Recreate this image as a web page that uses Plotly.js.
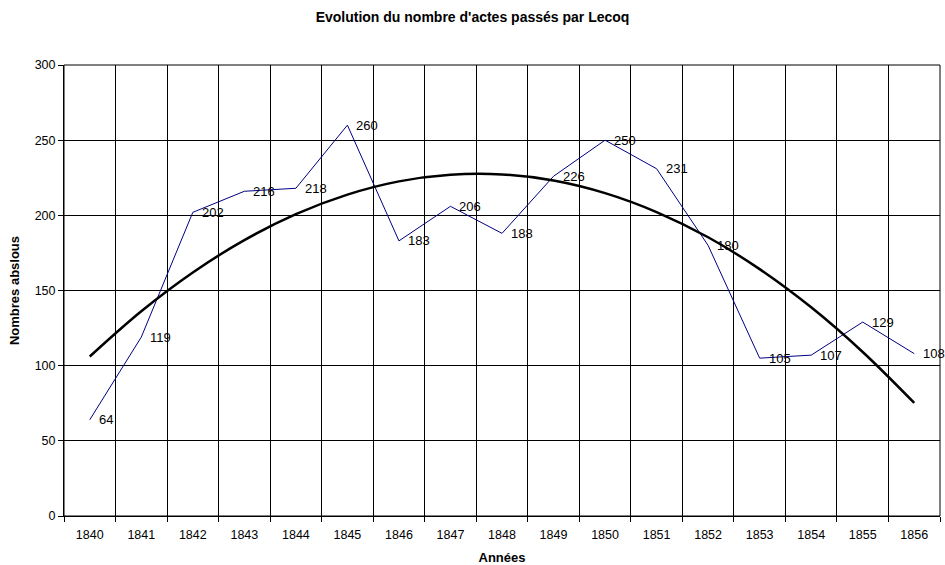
<!DOCTYPE html>
<html>
<head>
<meta charset="utf-8">
<script src="https://cdn.plot.ly/plotly-3.0.1.min.js"></script>
<style>html,body{margin:0;padding:0;background:#fff;}#chart{width:945px;height:565px;}</style>
</head>
<body>
<div id="chart"></div>
<script>
const years = ['1840','1841','1842','1843','1844','1845','1846','1847','1848','1849','1850','1851','1852','1853','1854','1855','1856'];
const actes = [64,119,202,216,218,260,183,206,188,226,250,231,180,105,107,129,108];
// trend curve (polynomial, order 2) values read at each year
const trend = [106.1,136.2,162.0,183.5,200.8,213.8,222.6,227.0,227.2,223.2,214.8,202.2,185.4,164.2,138.8,109.1,75.2];
const yTicks = [0,50,100,150,200,250,300];

const FONT = 'Liberation Sans, Arial, sans-serif';

const traces = [
  {
    x: years, y: actes, type: 'scatter', mode: 'lines',
    line: {color: '#000080', width: 1},
    hoverinfo: 'x+y'
  },
  {
    x: years, y: trend, type: 'scatter', mode: 'lines',
    line: {color: '#000', width: 2.5, shape: 'spline'},
    hoverinfo: 'skip'
  }
];

const labels = actes.map((v, i) => ({
  x: i, y: v, xref: 'x', yref: 'y',
  text: String(v), showarrow: false,
  xanchor: 'left', yanchor: 'middle', xshift: 7,
  font: {family: FONT, size: 13, color: '#000'}
}));

const layout = {
  width: 945, height: 565,
  margin: {l: 64, r: 5, t: 65, b: 49},
  paper_bgcolor: '#fff', plot_bgcolor: '#fff',
  showlegend: false,
  font: {family: FONT, size: 12.5, color: '#000'},
  title: {
    text: "<b>Evolution du nombre d'actes passés par Lecoq</b>",
    font: {size: 14, family: FONT, color: '#000'},
    x: 0.5, xanchor: 'center', y: 0.97, yanchor: 'middle', yref: 'container'
  },
  xaxis: {
    type: 'category', categoryorder: 'array', categoryarray: years,
    tickson: 'boundaries', ticks: 'outside', ticklen: 5, tickcolor: '#000',
    ticklabelstandoff: 7,
    showgrid: true, gridcolor: '#000', gridwidth: 1,
    showline: true, linecolor: '#000', linewidth: 1, mirror: false,
    range: [-0.5, 16.5], zeroline: false, automargin: false,
    tickfont: {size: 12.5},
    title: {text: '<b>Années</b>', font: {size: 13}, standoff: 14}
  },
  yaxis: {
    range: [0, 300], tickvals: yTicks, ticktext: yTicks.map(String),
    ticks: 'outside', ticklen: 5, tickcolor: '#000',
    showgrid: true, gridcolor: '#000', gridwidth: 1,
    showline: true, linecolor: '#000', linewidth: 1,
    zeroline: false, automargin: false, tickfont: {size: 12.5},
    title: {text: '<b>Nombres abslous</b>', font: {size: 13}, standoff: 12}
  },
  annotations: labels,
  shapes: [
    {type: 'rect', xref: 'paper', yref: 'paper', x0: 0, x1: 1, y0: 0, y1: 1,
     line: {color: '#000', width: 1}, fillcolor: 'rgba(0,0,0,0)', layer: 'above'}
  ]
};

Plotly.newPlot('chart', traces, layout, {displayModeBar: false, staticPlot: true});
</script>
</body>
</html>
